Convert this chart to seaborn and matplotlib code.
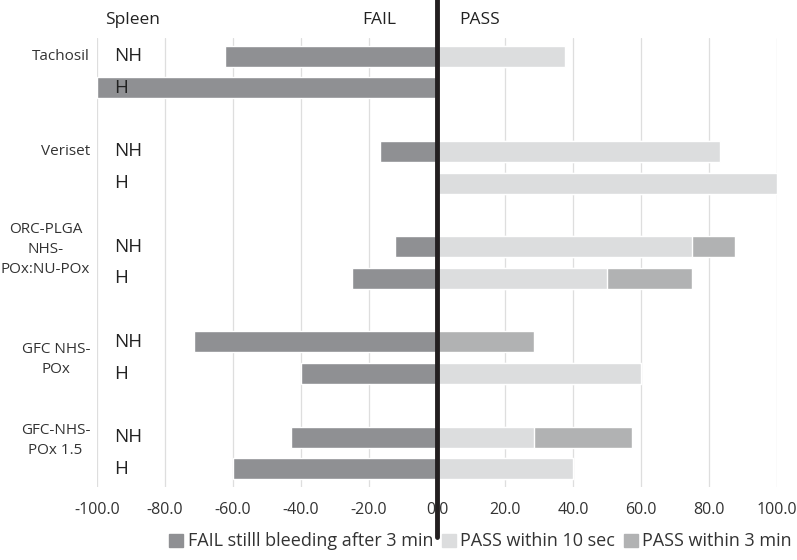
import numpy as np
import pandas as pd
import matplotlib
matplotlib.use("Agg")
import matplotlib.pyplot as plt
from matplotlib.patches import Patch
import seaborn as sns

# data (percent of samples)
groups = ["Tachosil", "Veriset", "ORC-PLGA\nNHS-\nPOx:NU-POx", "GFC NHS-\nPOx", "GFC-NHS-\nPOx 1.5"]
subs = ["NH", "H"]
fail_3min = [-62.5, -100.0, -16.7, 0.0, -12.5, -25.0, -71.4, -40.0, -42.9, -60.0]
pass_10s = [37.5, 0.0, 83.3, 100.0, 75.0, 50.0, 0.0, 60.0, 28.6, 40.0]
pass_3min = [0.0, 0.0, 0.0, 0.0, 12.5, 25.0, 28.6, 0.0, 28.6, 0.0]
xticks = [-100, -80, -60, -40, -20, 0, 20, 40, 60, 80, 100]
xtick_labels = ["-100.0", "-80.0", "-60.0", "-40.0", "-20.0", "0.0", "20.0", "40.0", "60.0", "80.0", "100.0"]

c_fail = "#8f9093"
c_p10 = "#dcddde"
c_p3 = "#b1b2b3"

# rows: 2 per group, one blank slot between groups
pos = [g * 3 + s for g in range(len(groups)) for s in range(2)]
df = pd.DataFrame({"pos": pos, "fail": fail_3min, "p10": pass_10s,
                   "p3": pass_3min})
df["p_total"] = df["p10"] + df["p3"]

sns.set_style("white")
plt.rcParams["font.family"] = ["Open Sans", "DejaVu Sans"]

fig = plt.figure(figsize=(7.97, 5.6), dpi=100)
ax = fig.add_axes([0.1217, 0.1304, 0.8533, 0.8018])

for x in xticks:
    ax.axvline(x, color="#dedede", lw=0.9, zorder=0)

kw = dict(y="pos", orient="h", native_scale=True, width=0.66,
          saturation=1, errorbar=None, ax=ax, zorder=2)
sns.barplot(data=df, x="fail", color=c_fail, **kw)
sns.barplot(data=df, x="p_total", color=c_p3, **kw)
sns.barplot(data=df, x="p10", color=c_p10, **kw)

ax.set_xlim(-100, 100)
ax.set_ylim(13.57, -0.57)
ax.set_xticks(xticks)
ax.set_xticklabels(xtick_labels, fontsize=11.5, color="#333333")
ax.tick_params(axis="x", length=0, pad=11)
ax.set_yticks([])
ax.set_xlabel("")
ax.set_ylabel("")
for s in ax.spines.values():
    s.set_visible(False)

# thick zero line running past the plot area
ax.axvline(0, ymin=-0.112, ymax=1.09, color="#231f20", lw=3.5,
           clip_on=False, zorder=5)

# NH / H labels inside plot
for p, s in zip(pos, subs * len(groups)):
    ax.text(-95, p, s, fontsize=13.5, va="center", ha="left", color="#222222", zorder=6)

# group labels on the left
label_y = [0, 3, 6.1, 9.55, 12.1]
for g, y in zip(groups, label_y):
    ax.text(-102, y, g, fontsize=11, ha="right", va="center",
            color="#333333", multialignment="center", linespacing=1.45)

trans = ax.get_xaxis_transform()
ax.text(-97.5, 1.04, "Spleen", transform=trans, fontsize=12.5, va="center", color="#222222")
ax.text(-17, 1.04, "FAIL", transform=trans, fontsize=12.5, va="center", ha="center", color="#222222")
ax.text(12.5, 1.04, "PASS", transform=trans, fontsize=12.5, va="center", ha="center", color="#222222")

handles = [Patch(color=c_fail), Patch(color=c_p10), Patch(color=c_p3)]
names = ["FAIL stilll bleeding after 3 min", "PASS within 10 sec", "PASS within 3 min"]
fig.legend(handles, names, loc="lower center", bbox_to_anchor=(0.603, -0.012), ncol=3,
           frameon=False, fontsize=13, handlelength=0.75, handleheight=0.75,
           handletextpad=0.25, columnspacing=0.5, labelcolor="#333333")

fig.savefig("out.png", dpi=100)
